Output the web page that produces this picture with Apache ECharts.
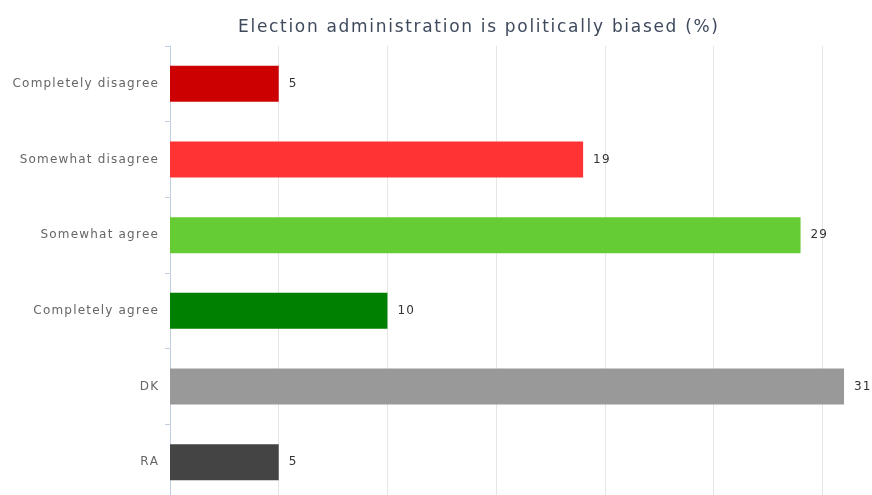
<!DOCTYPE html>
<html>
<head>
<meta charset="utf-8">
<script src="https://cdn.jsdelivr.net/npm/echarts@6/dist/echarts.min.js"></script>
<style>html,body{margin:0;padding:0;background:#fff;overflow:hidden;width:872px;height:495px;}#c{width:940px;height:510px;}</style>
</head>
<body>
<div id="c"></div>
<script>
const titleText = "Election administration is politically biased (%)";
const categories = ["Completely disagree", "Somewhat disagree", "Somewhat agree", "Completely agree", "DK", "RA"];
const values = [5, 19, 29, 10, 31, 5];
const barColors = ["#cc0000", "#ff3333", "#66cc33", "#008000", "#999999", "#444444"];

const sp = s => s.split('').join('\u200A');

const chart = echarts.init(document.getElementById('c'), null, {renderer: 'canvas'});
chart.setOption({
  animation: false,
  backgroundColor: '#ffffff',
  title: {
    text: sp(titleText),
    left: 473, top: 14, textAlign: 'center',
    textStyle: {fontFamily: 'DejaVu Sans', fontSize: 17, fontWeight: 'normal', color: '#3e4a5c'}
  },
  grid: {left: 170, width: 761, top: 46, height: 454, containLabel: false},
  xAxis: {
    type: 'value', min: 0, max: 35, interval: 5,
    axisLabel: {show: false},
    axisLine: {show: false}, axisTick: {show: false},
    splitLine: {show: true, lineStyle: {color: '#e6e6e6', width: 1}}
  },
  yAxis: {
    type: 'category', data: categories, inverse: true,
    axisLine: {show: true, lineStyle: {color: '#c0d0e0', width: 1}},
    axisTick: {show: true, length: 5, lineStyle: {color: '#c0d0e0'}},
    axisLabel: {fontFamily: 'DejaVu Sans', fontSize: 12, color: '#666666', margin: 12, formatter: v => sp(v)}
  },
  series: [{
    type: 'bar',
    barWidth: 36,
    data: values.map((v, i) => ({value: v, itemStyle: {color: barColors[i]}})),
    label: {show: true, position: 'right', distance: 10, fontFamily: 'DejaVu Sans', fontSize: 12, color: '#333333', formatter: p => sp(String(p.value))}
  }]
});
</script>
</body>
</html>
